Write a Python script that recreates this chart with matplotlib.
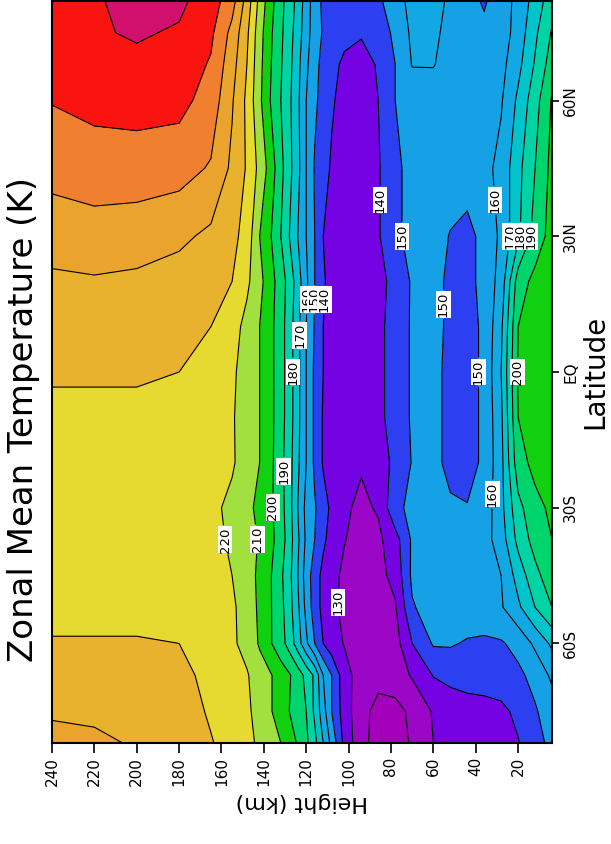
import numpy as np
import matplotlib
matplotlib.use("Agg")
import matplotlib.pyplot as plt

# Height levels (km), listed from the top of the model down to the surface
heights = [240, 220, 200, 180, 165, 155, 148, 142, 137, 132, 128, 124, 120, 116,
           112, 108, 102, 94, 86, 78, 70, 60, 52, 44, 36, 28, 20, 12, 4]

lats = [-82, -75, -67, -60, -52, -45, -37, -30, -20, -10, 0, 10, 20, 30, 45, 60, 68, 75, 82]

# Zonal mean temperature (K), one height profile per latitude
temp_profiles = [
    [245, 242, 239, 234, 230.5, 227, 223, 218, 214, 210, 205, 199, 192, 183, 170, 157, 137, 123, 116, 116, 121, 130, 133, 135, 136, 137, 139.5, 146, 153],
    [238, 238, 237, 234, 229, 226, 222, 216, 211, 205, 200, 195, 190, 178, 164, 150, 135, 123, 117, 117, 122, 131, 134, 136, 137, 138, 142, 149, 155],
    [234, 234, 234, 232, 228, 225, 221, 214, 211, 205, 201, 195, 187, 178, 160, 150, 134, 125, 123, 125, 131, 140.5, 143, 144, 144, 145, 148, 153, 162],
    [231, 231, 231, 230, 227, 222, 216, 209, 201, 194, 186, 175, 162, 150, 140, 134, 129.5, 125, 123, 126, 140, 151, 151, 149, 148, 149, 153, 162, 172],
    [226, 226, 226, 225, 224, 221.5, 216, 208, 201, 193, 184, 172, 157, 145, 137, 132, 128, 124, 125, 129, 149, 155, 155, 156, 157, 159, 168, 180, 190],
    [222, 222, 222, 222, 221, 220, 214, 208, 201, 192, 183, 170, 155, 145, 137, 133, 128, 125, 127, 133, 152, 155, 155, 155, 156, 160, 174, 187, 196],
    [223, 223, 223, 223, 222, 219, 215, 209, 203, 195, 185, 172, 158, 150, 142, 136, 130.5, 126, 128, 136, 151.5, 154, 154, 154, 156, 165, 183, 194, 200],
    [224, 224, 224, 223, 222, 218, 213, 207, 202, 194, 184, 170, 157, 151, 144, 138, 131.5, 128, 131, 148, 152, 153, 151, 150.5, 154, 167, 187, 197, 202],
    [225, 225, 225, 225, 224, 221, 216, 210, 203, 193, 184, 172, 160, 148, 139, 134, 132, 131, 134, 143, 150.5, 152, 148, 146, 152, 167, 196, 203, 205],
    [228, 228, 228, 227, 225, 221, 215, 210, 203, 194, 185, 173, 160, 148, 139, 135, 133, 132, 137, 145, 151, 152, 148, 146, 152, 168, 200, 205, 207],
    [231, 231, 231, 230, 227, 222, 215, 210, 203, 194, 185, 173, 160, 148, 140, 137, 134, 133, 137, 145, 151, 152, 148, 146, 152, 170, 201, 205, 207],
    [234, 234, 234, 233, 230, 224, 217, 210, 203, 194, 185, 173, 160, 149, 140, 136, 134, 133, 137, 145, 151, 153, 148, 146, 152, 168, 200, 205, 206],
    [238, 239, 238, 236, 234, 230, 222, 213, 204, 195, 186, 175, 162, 150, 141, 137, 134, 133, 136, 144, 151, 153, 148, 147, 153, 164, 195, 203, 205],
    [245, 246, 245, 242, 238, 233, 226, 210, 201, 190, 180, 170, 160, 150, 140, 136, 133, 132, 139, 148, 153, 154, 149.5, 147, 153, 162, 178, 194, 204],
    [253, 255, 255, 254, 249, 238, 229, 217, 206, 193, 183, 173, 160, 149, 143, 139, 135, 133, 139, 148, 153, 155, 155, 155, 157, 163, 177, 190, 203],
    [260.5, 263, 264, 263, 256, 241, 228, 212, 200, 190, 182, 172, 160, 152, 146, 141, 137, 135, 140, 150, 154, 155, 155, 155, 155, 159, 172, 186, 201],
    [262, 266, 268, 266, 259, 244, 230, 213, 201, 191, 183, 173, 162, 153, 147, 143, 138, 136, 141, 150, 160.5, 160.5, 156, 154, 154, 157, 167, 181, 195],
    [263, 269, 271, 269, 262, 247, 232, 214, 202, 192, 184, 175, 164, 155, 149, 146, 143, 141, 145, 152, 162, 162, 157, 153, 152, 155, 164, 178, 191],
    [264, 269, 273, 272, 265, 254, 236, 217, 204, 193, 185, 177, 165, 155, 148, 146, 145, 144, 148, 156, 163, 164, 158, 153, 149, 155, 163, 174, 186],
]

levels = list(range(110, 290, 10))
band_colors = ["#a400bc", "#9c06c6", "#7402e2", "#2c40f2", "#16a0e6", "#12a8e4",
               "#00c4cc", "#00d4a4", "#00d46c", "#10d010", "#a2e040", "#e6da30",
               "#e8b22e", "#eaa42e", "#f08030", "#fa1410", "#d2106e"]

lat_ticks = [-60, -30, 0, 30, 60]
lat_labels = ["60S", "30S", "EQ", "30N", "60N"]
height_ticks = list(range(240, 0, -20))

# contour labels: (height, latitude) spots near where the picture puts them
label_spots = [(157, -37), (144, -37), (136, -30), (131, -22), (126, 0), (122.5, 8),
               (120, 16), (116.5, 16), (112.5, 16), (85, 38), (76, 30),
               (56, 15), (38, 0), (31, 38), (30, -27), (25, 30), (19, 30), (13, 30),
               (21, 0), (102.5, -51)]

temp = np.array(temp_profiles)

fig = plt.figure(figsize=(6.11, 8.44), dpi=100)
ax = fig.add_axes([52 / 611, 1 - 743 / 844, 500 / 611, 742 / 844])

ax.contourf(heights, lats, temp, levels=levels, colors=band_colors)
cs = ax.contour(heights, lats, temp, levels=levels, colors="black", linewidths=0.8)
texts = ax.clabel(cs, fmt="%d", fontsize=9.5, manual=label_spots, inline=True, inline_spacing=2)
for t in texts:
    t.set_rotation(90)
    t.set_bbox(dict(facecolor="white", edgecolor="none", pad=0.6))

ax.set_xlim(240, 4)
ax.set_ylim(-82, 82)
ax.set_xticks(height_ticks)
ax.set_xticklabels([str(h) for h in height_ticks], rotation=90)
ax.set_yticks(lat_ticks)
ax.set_yticklabels(lat_labels, rotation=90, va="center")
ax.yaxis.tick_right()
ax.tick_params(axis="x", direction="out", length=7, width=1.2, labelsize=11, pad=3)
ax.tick_params(axis="y", direction="out", length=5, width=1.2, labelsize=11, pad=3)
for sp in ax.spines.values():
    sp.set_linewidth(1.5)

fig.text(24 / 611, 1 - 420 / 844, "Zonal Mean Temperature (K)", rotation=90,
         ha="center", va="center", fontsize=24.5)
fig.text(302 / 611, 1 - 802 / 844, "Height (km)", rotation=180,
         ha="center", va="center", fontsize=16)
fig.text(595 / 611, 1 - 372 / 844, "Latitude", rotation=90,
         ha="center", va="center", fontsize=20)

fig.savefig("out.png", dpi=100)
plt.close(fig)
